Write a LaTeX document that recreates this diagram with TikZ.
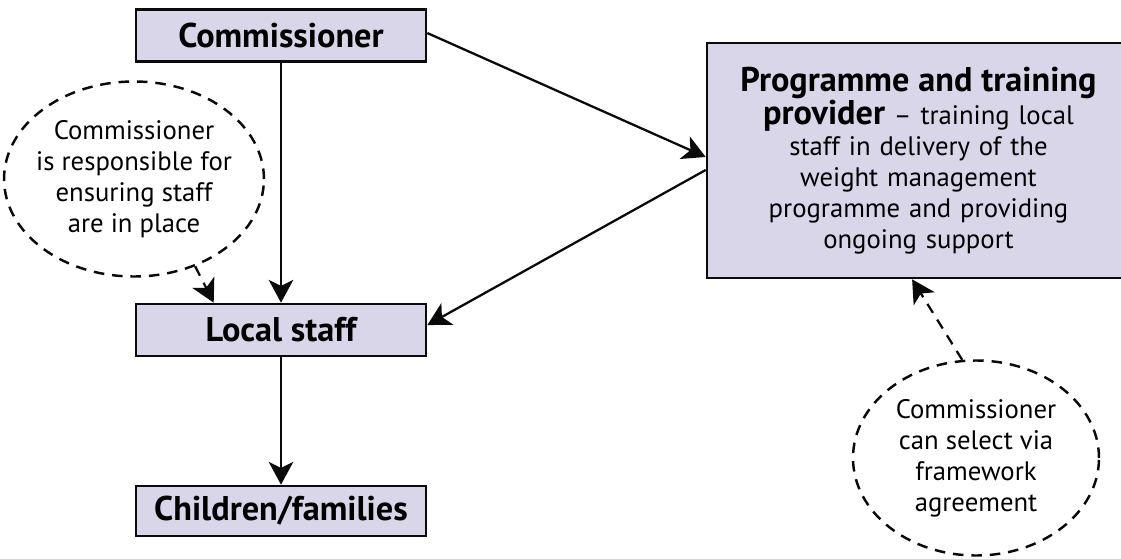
\documentclass[tikz,border=0pt]{standalone}
\usepackage{fontspec}
\setmainfont{PT Sans}
\usepackage{tikz}
\usetikzlibrary{shapes.geometric, arrows.meta, calc}
\definecolor{boxfill}{RGB}{216,214,232}
\definecolor{mydark}{RGB}{10,10,10}
\newcommand{\boldtxt}{\fontsize{19.5}{21}\selectfont\bfseries}
\newcommand{\plaintxt}{\fontsize{15.2}{17.6}\selectfont}
\tikzset{
  box/.style={rectangle, draw=mydark, fill=boxfill,
    minimum width=5.8cm, minimum height=1.04cm,
    font=\boldtxt, line width=1.5pt, inner sep=0pt},
  provbox/.style={rectangle, draw=mydark, fill=boxfill,
    minimum width=8.46cm, minimum height=4.7cm, text width=7.9cm, align=center,
    font=\plaintxt, line width=1.5pt},
  bubble/.style={ellipse, draw=mydark, dash pattern=on 6pt off 4.5pt,
    minimum width=4.92cm, minimum height=3.9cm, align=center,
    font=\plaintxt, line width=1.4pt, inner ysep=0pt, inner xsep=-0.12cm},
  arrow/.style={-{Stealth[length=13pt, width=14pt, inset=3.5pt]}, line width=1.3pt, color=mydark},
  dasharrow/.style={arrow, dash pattern=on 6pt off 4.5pt}
}
\begin{document}
\begin{tikzpicture}
  \useasboundingbox (0,0) rectangle (22.42,11.16);
  \clip (0,0) rectangle (22.42,11.16);

  % Main boxes
  \node[box] (comm) at (5.62,10.45) {Commissioner};
  \node[box] (staff) at (5.62,4.56) {Local staff};
  \node[box, minimum height=1.0cm] (kids) at (5.62,0.94) {Children/families};
  \node[provbox] (prov) at (18.37,7.95)
    {{\boldtxt Programme and training}\\
     {\boldtxt provider} -- training local\\
     staff in delivery of the\\
     weight management\\
     programme and providing\\
     ongoing support};

  % Notes
  \node[bubble] (lnote) at (2.68,7.58)
    {Commissioner\\is responsible for\\ensuring staff\\are in place};
  \node[bubble] (rnote) at (19.52,2.0)
    {Commissioner\\can select via\\framework\\agreement};

  % Arrows
  \draw[arrow] (comm) -- (staff);
  \draw[arrow] (staff) -- (kids);
  \draw[arrow] ([yshift=1.4pt]comm.east) -- ([yshift=2pt]prov.west);
  \draw[arrow] ([yshift=-5.4pt]prov.west) -- ([yshift=2.8pt]staff.east);

  % Dashed note arrows
  \draw[dasharrow] (lnote.-55) -- ($(staff.north west)!0.27!(staff.north east)$);
  \draw[dasharrow] (rnote.98) -- ($(prov.south west)!0.485!(prov.south east)$);
\end{tikzpicture}
\end{document}
